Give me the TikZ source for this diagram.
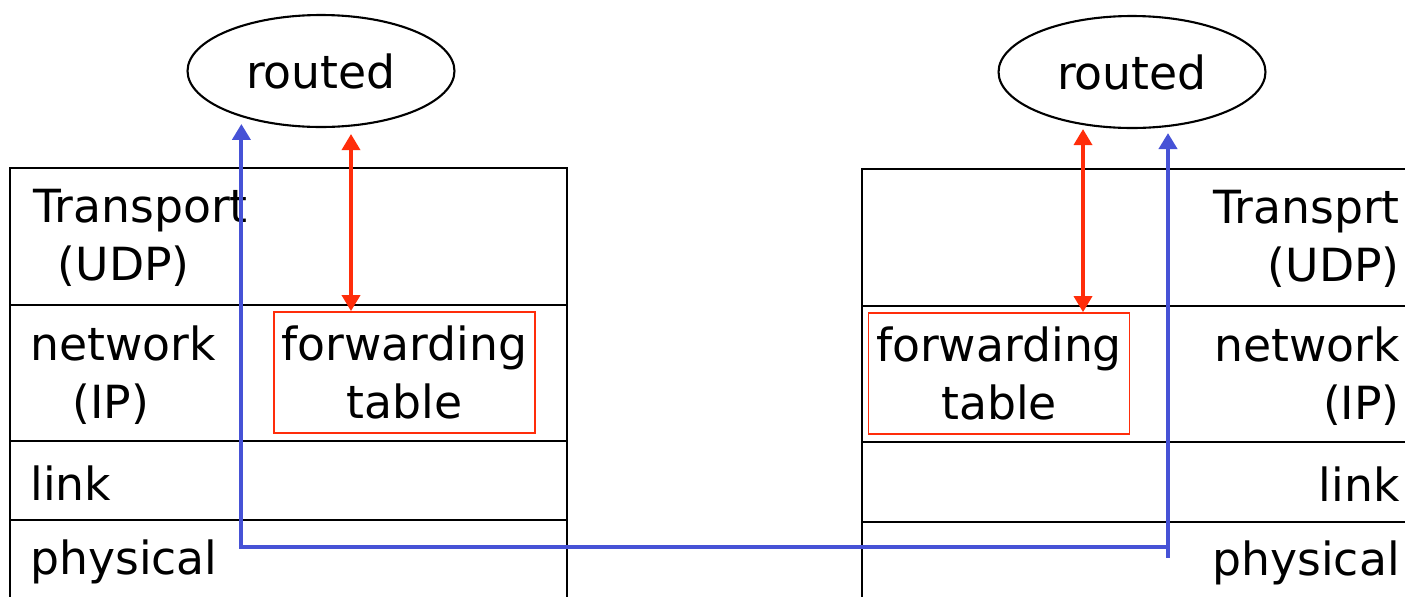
\documentclass[tikz,border=0pt]{standalone}
\usepackage{fontspec}
\setmainfont{DejaVu Sans}
\usetikzlibrary{arrows.meta,shapes.geometric}
\definecolor{fwdred}{RGB}{255,45,10}
\definecolor{ipblue}{RGB}{70,82,214}

\begin{document}
\begin{tikzpicture}[x=0.02cm,y=-0.02cm, %1px = 0.02cm
  layer/.style={draw,line width=1.5pt},
  lbl/.style={inner sep=0pt,font=\fontsize{26}{33}\selectfont},
  daemon/.style={draw,ellipse,line width=1.2pt,minimum width=5.34cm,minimum height=2.24cm,inner sep=0pt,font=\fontsize{26}{33}\selectfont},
  fwd/.style={draw=fwdred,line width=1pt,minimum width=5.22cm,minimum height=2.42cm,inner sep=0pt,align=center,font=\fontsize{26}{33}\selectfont},
  redarrow/.style={draw=fwdred,line width=2pt,{Triangle[width=0.36cm,length=0.32cm]}-{Triangle[width=0.36cm,length=0.32cm]}},
  bluearrow/.style={draw=ipblue,line width=2.3pt,{Triangle[width=0.36cm,length=0.32cm]}-{Triangle[width=0.36cm,length=0.32cm]}}]
\useasboundingbox (0,0) rectangle (1405,596);
\clip (0,0) rectangle (1405,596);

% protocol stacks
\foreach \t/\b in {168/305,305/441,441/520,520/600} {
\draw[layer] (10,\t) rectangle (567,\b);
}
\foreach \t/\b in {169/306,306/442,442/522,522/602} {
\draw[layer] (862,\t) rectangle (1420,\b);
}

\node[lbl,anchor=west,align=left] (tpL) at (33,238) {Transport\\\hspace*{14pt}(UDP)};
\node[lbl,anchor=west,align=left] (nwL) at (30,375) {network\\\hspace*{24pt}(IP)};
\node[lbl,anchor=west] (lkL) at (30,483) {link};
\node[lbl,anchor=west] (phL) at (30,562) {physical};

\node[lbl,anchor=east,align=right] (tpR) at (1400,239) {Transprt\\(UDP)};
\node[lbl,anchor=east,align=right] (nwR) at (1400,376) {network\\(IP)};
\node[lbl,anchor=east] (lkR) at (1400,484) {link};
\node[lbl,anchor=east] (phR) at (1400,563) {physical};

% routing daemons and tables
\node[daemon] (routedL) at (321,71) {routed};
\node[daemon] (routedR) at (1132,72) {routed};
\node[fwd] (fwdL) at (404.5,372.5) {forwarding\\table};
\node[fwd] (fwdR) at (999,373.5) {forwarding\\table};

\draw[redarrow,shorten <=0.12cm] (routedL.south -| 351,0) -- (fwdL.north -| 351,0);
\draw[redarrow] (routedR.south -| 1083,0) -- (fwdR.north -| 1083,0);

\draw[bluearrow,shorten <=0.14cm,shorten >=0.08cm] (routedL.210) -- (routedL.210 |- 0,547) -| (routedR.south -| 1168,0);
\draw[ipblue,line width=2.3pt] (1168,547) -- (1168,558);
\end{tikzpicture}
\end{document}
